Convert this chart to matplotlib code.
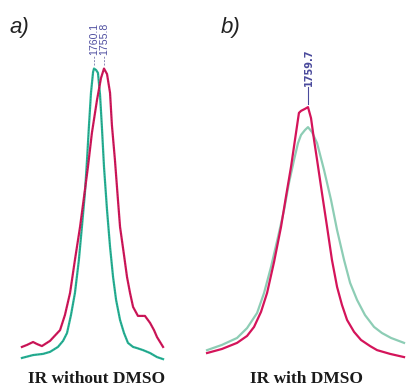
import matplotlib
matplotlib.use('Agg')
import matplotlib.pyplot as plt

# panel a: IR without DMSO (wavenumber cm-1, normalised absorbance)
a_red_wn = [1791.1, 1788.9, 1786.3, 1784.6, 1782.5, 1779.0, 1774.7, 1772.6, 1770.4, 1768.3,
            1766.1, 1764.4, 1762.7, 1761.0, 1758.8, 1757.1, 1755.8, 1754.5, 1753.2, 1752.4,
            1751.1, 1749.8, 1748.9, 1747.2, 1745.9, 1744.6, 1743.3, 1741.2, 1738.2, 1736.0,
            1734.3, 1733.0, 1730.4]
a_red_abs = [0.045, 0.052, 0.062, 0.055, 0.048, 0.066, 0.103, 0.155, 0.231, 0.345,
             0.459, 0.562, 0.666, 0.783, 0.897, 0.972, 1.005, 0.986, 0.921, 0.810,
             0.690, 0.552, 0.459, 0.362, 0.286, 0.231, 0.183, 0.152, 0.152, 0.128,
             0.103, 0.079, 0.045]
a_teal_wn = [1791.1, 1786.3, 1782.0, 1779.0, 1775.6, 1773.4, 1771.7, 1770.0, 1768.3, 1766.6,
             1765.3, 1764.0, 1763.1, 1762.3, 1761.4, 1760.5, 1760.1, 1759.2, 1758.4, 1757.5,
             1756.7, 1755.8, 1754.5, 1753.2, 1751.9, 1750.6, 1748.9, 1747.2, 1745.5, 1743.3,
             1741.6, 1739.0, 1736.0, 1733.0, 1730.4]
a_teal_abs = [0.007, 0.017, 0.021, 0.028, 0.045, 0.066, 0.093, 0.155, 0.231, 0.345,
              0.459, 0.576, 0.690, 0.803, 0.921, 0.993, 1.005, 1.000, 0.990, 0.914,
              0.803, 0.666, 0.517, 0.390, 0.286, 0.207, 0.138, 0.093, 0.059, 0.045,
              0.041, 0.034, 0.024, 0.010, 0.003]
a_peaks = [1760.1, 1755.8]

# panel b: IR with DMSO
b_red_wn = [1803.1, 1796.7, 1790.2, 1785.9, 1782.9, 1779.9, 1777.3, 1774.3, 1771.3, 1769.2,
            1767.0, 1765.3, 1763.6, 1762.7, 1761.0, 1759.7, 1758.4, 1757.1, 1755.8, 1753.7,
            1751.5, 1749.4, 1747.2, 1745.1, 1742.9, 1739.9, 1736.9, 1733.0, 1730.0, 1724.4,
            1718.4]
b_red_abs = [0.024, 0.038, 0.059, 0.083, 0.114, 0.166, 0.231, 0.338, 0.459, 0.562,
             0.666, 0.759, 0.852, 0.859, 0.866, 0.872, 0.834, 0.759, 0.690, 0.576,
             0.459, 0.345, 0.252, 0.190, 0.138, 0.097, 0.069, 0.048, 0.034, 0.021,
             0.010]
b_teal_wn = [1803.1, 1796.7, 1790.2, 1785.9, 1781.6, 1778.6, 1775.6, 1772.6, 1770.0, 1767.9,
             1765.7, 1764.0, 1762.7, 1761.0, 1759.7, 1758.0, 1755.8, 1752.8, 1749.8, 1747.2,
             1744.2, 1741.6, 1738.6, 1735.2, 1731.3, 1727.9, 1724.0, 1718.4]
b_teal_abs = [0.034, 0.052, 0.076, 0.110, 0.162, 0.231, 0.321, 0.424, 0.517, 0.610,
              0.690, 0.748, 0.776, 0.793, 0.803, 0.786, 0.748, 0.655, 0.552, 0.448,
              0.345, 0.266, 0.207, 0.155, 0.114, 0.093, 0.076, 0.059]
b_peaks = [1759.7]

RED = '#d4145a'
TEAL_A = '#25b497'
TEAL_B = '#8dcdb5'
LABEL = '#4a4a9c'

fig = plt.figure(figsize=(4.08, 3.86), dpi=100)
ax_a = fig.add_axes([0, 0, 0.5, 1])
ax_b = fig.add_axes([0.5, 0, 0.5, 1])

# panel a
ax_a.plot(a_teal_wn, a_teal_abs, color=TEAL_A, lw=1.6)
ax_a.plot(a_red_wn, a_red_abs, color=RED, lw=1.6)
ax_a.plot(a_teal_wn, a_teal_abs, color='#333333', lw=0.5, alpha=0.35, dashes=(2, 2))
ax_a.plot(a_red_wn, a_red_abs, color='#333333', lw=0.5, alpha=0.35, dashes=(2, 2))
for wn in a_peaks:
    ax_a.plot([wn, wn], [1.018, 1.052], color='#8a8ab8', lw=0.7, dashes=(2, 1.5))
    ax_a.text(wn, 1.052, f'{wn:.1f}', rotation=90, ha='center', va='bottom',
              fontsize=7.6, color='#4f4fa0', family='Liberation Sans')
ax_a.set_xlim(1800.52, 1712.8)
ax_a.set_ylim(-0.0897, 1.2414)
ax_a.axis('off')

# panel b
ax_b.plot(b_teal_wn, b_teal_abs, color=TEAL_B, lw=1.6)
ax_b.plot(b_red_wn, b_red_abs, color=RED, lw=1.6)
for wn in b_peaks:
    ax_b.plot([wn, wn], [0.882, 0.940], color=LABEL, lw=0.8)
    ax_b.text(wn - 0.6, 0.945, f'{wn:.1f}', rotation=90, ha='center', va='bottom',
              fontsize=7, color=LABEL, fontweight='bold')
ax_b.set_xlim(1804.42, 1716.7)
ax_b.set_ylim(-0.0897, 1.2414)
ax_b.axis('off')

fig.text(9 / 408, 1 - 33 / 386, 'a)', fontsize=16, style='italic',
         family='Liberation Sans', va='baseline', ha='left', color='#222222')
fig.text(221 / 408, 1 - 33 / 386, 'b)', fontsize=16, style='italic',
         family='Liberation Sans', va='baseline', ha='left', color='#222222')
fig.text(97 / 408, 3 / 386, 'IR without DMSO', fontsize=12.5, fontweight='bold',
         family='Liberation Serif', ha='center', va='baseline', color='#1a1a1a')
fig.text(307 / 408, 3 / 386, 'IR with DMSO', fontsize=12.5, fontweight='bold',
         family='Liberation Serif', ha='center', va='baseline', color='#1a1a1a')

fig.savefig('out.png', dpi=100)
plt.close()
